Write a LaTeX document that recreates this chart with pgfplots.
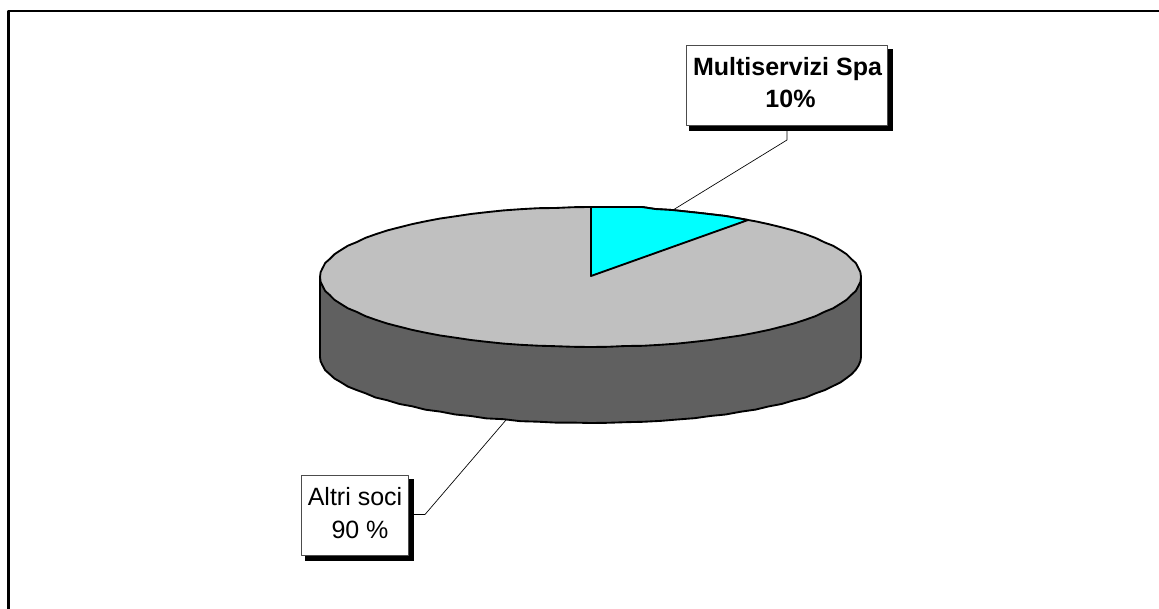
\documentclass[border=0pt]{standalone}
\usepackage{fontspec}
\setmainfont{Liberation Sans}
\usepackage{pgfplots}
\pgfplotsset{compat=1.18}
\definecolor{pieTop}{RGB}{192,192,192}
\definecolor{pieSide}{RGB}{96,96,96}
\definecolor{sliceCyan}{RGB}{0,255,255}
\begin{document}
\begin{tikzpicture}
\begin{axis}[
    scale only axis,
    width=869.25pt,
    height=456.75pt,
    xmin=0, xmax=1159,
    ymin=0, ymax=609,
    y dir=reverse,
    hide axis,
    no markers,
    line join=round,
]
% page background, keeps the picture at full size
\addplot[draw=none, fill=white] coordinates {(0,0) (1159,0) (1159,609) (0,609)} --cycle;
% frame: top and left only
\addplot[black, line width=1.6pt] coordinates {(1159,11) (8.5,11) (8.5,609)};

% side of the pie
\addplot[draw=black, fill=pieSide, line width=1.4pt] coordinates {
    (320,277) (320,357) (320.6,361.3) (322.5,365.2) (325.2,370.2) (329.5,374) (334.4,378.5)
    (340.5,382) (347.9,386.6) (356.5,390) (365.6,393.3) (375.5,397.5) (387.1,400.2) (399.5,404)
    (412.2,406.3) (425.5,409.7) (440.2,411.6) (455.5,414.5) (470.8,416) (486.5,418.4) (503.6,419.2)
    (520.5,421.2) (538,421.7) (555.5,422.6) (573,422.6) (590.5,423)
    (608,422.8) (625.5,422.2) (643,421.8) (660.5,420.9) (677.4,419.5) (694.5,418.2) (710.2,416)
    (725.5,414.5) (740.8,411.7) (755.5,409.6) (768.8,406.4) (781.5,404) (793.9,400.3) (805.5,397.5)
    (815.4,393.4) (824.5,390.2) (833.1,386) (840.5,382.4) (846.6,378) (851.5,374.3) (855.8,369.7)
    (858.5,365.6) (860.4,361.1) (861,357) (861,277)
} --cycle;
% top of the pie, Altri soci
\addplot[draw=black, fill=pieTop, line width=1.4pt] coordinates {
    (320,277) (320.6,272.2) (322.5,268.3) (325.2,263) (329.5,259.2) (334.4,254.3) (340.5,250.3)
    (347.9,245.7) (356.5,242.2) (365.6,237.8) (375.5,234.3) (387.1,230.5) (399.5,227.3) (412.2,224.1)
    (425.5,221.3) (440.2,218.5) (455.5,216.3) (470.8,214) (486.5,212.2) (503.6,210.4) (520.5,209.2)
    (538,208.2) (555.5,208) (573,207.2) (590.5,207)
    (642,207) (655,209) (672,210) (700,213) (725.5,216) (748,220) (755.5,221.3)
    (768.8,224.2) (781.5,227.3) (793.9,230.6) (805.5,234.2) (815.4,237.9) (824.5,242.3) (833.1,245.8)
    (840.5,250.2) (846.6,254.2) (851.5,259.2) (855.8,263) (858.5,268.2) (860.4,272.2) (861,277)
    (860.4,281.8) (858.5,285.8) (855.8,291) (851.5,294.8) (846.6,299.8) (840.5,303.7) (833.1,308.3)
    (824.5,311.8) (815.4,316.2) (805.5,319.7) (793.9,323.5) (781.5,326.7) (768.8,329.9) (755.5,332.7)
    (740.8,335.5) (725.5,337.7) (710.2,340) (694.5,341.8) (677.4,343.6) (660.5,344.8) (643,345.8)
    (625.5,346) (608,346.8) (590.5,347) (573,346.8) (555.5,346.2) (538,345.7) (520.5,344.8)
    (503.6,343.6) (486.5,341.8) (470.8,340) (455.5,337.7) (440.2,335.5) (425.5,332.7) (412.2,329.9)
    (399.5,326.7) (387.1,323.5) (375.5,319.7) (365.6,316.2) (356.5,311.8) (347.9,308.3) (340.5,303.7)
    (334.4,299.8) (329.5,294.8) (325.2,291) (322.5,285.8) (320.6,281.8)
} --cycle;
% slice, Multiservizi Spa
\addplot[draw=black, fill=sliceCyan, line width=1.4pt] coordinates {
    (591,276) (591,207) (642,207) (655,209) (672,210) (700,213) (725.5,216) (748,220)
} --cycle;

% leader lines
\addplot[black, line width=0.5pt] coordinates {(787,131) (787,140) (673,210)};
\addplot[black, line width=0.5pt] coordinates {(414,514.5) (425,514.5) (506,420)};

% label boxes with shadow
\addplot[draw=none, fill=black] coordinates {(689,49) (893,49) (893,131) (689,131)} --cycle;
\addplot[draw=black!70, fill=white, line width=0.6pt] coordinates {(686,45) (887,45) (887,125) (686,125)} --cycle;
\addplot[draw=none, fill=black] coordinates {(305,479) (414,479) (414,561) (305,561)} --cycle;
\addplot[draw=black!70, fill=white, line width=0.6pt] coordinates {(301,475) (408,475) (408,555) (301,555)} --cycle;

\node[anchor=base, inner sep=0pt, font=\fontsize{18.75}{20}\selectfont\bfseries] at (axis cs:787.5,76) {Multiservizi Spa};
\node[anchor=base, inner sep=0pt, font=\fontsize{18.75}{20}\selectfont\bfseries] at (axis cs:790.5,108) {10\%};
\node[anchor=base, inner sep=0pt, font=\fontsize{18.75}{20}\selectfont] at (axis cs:355,505) {Altri soci};
\node[anchor=base, inner sep=0pt, font=\fontsize{18.75}{20}\selectfont] at (axis cs:360,538) {90 \%};
\end{axis}
\end{tikzpicture}
\end{document}
